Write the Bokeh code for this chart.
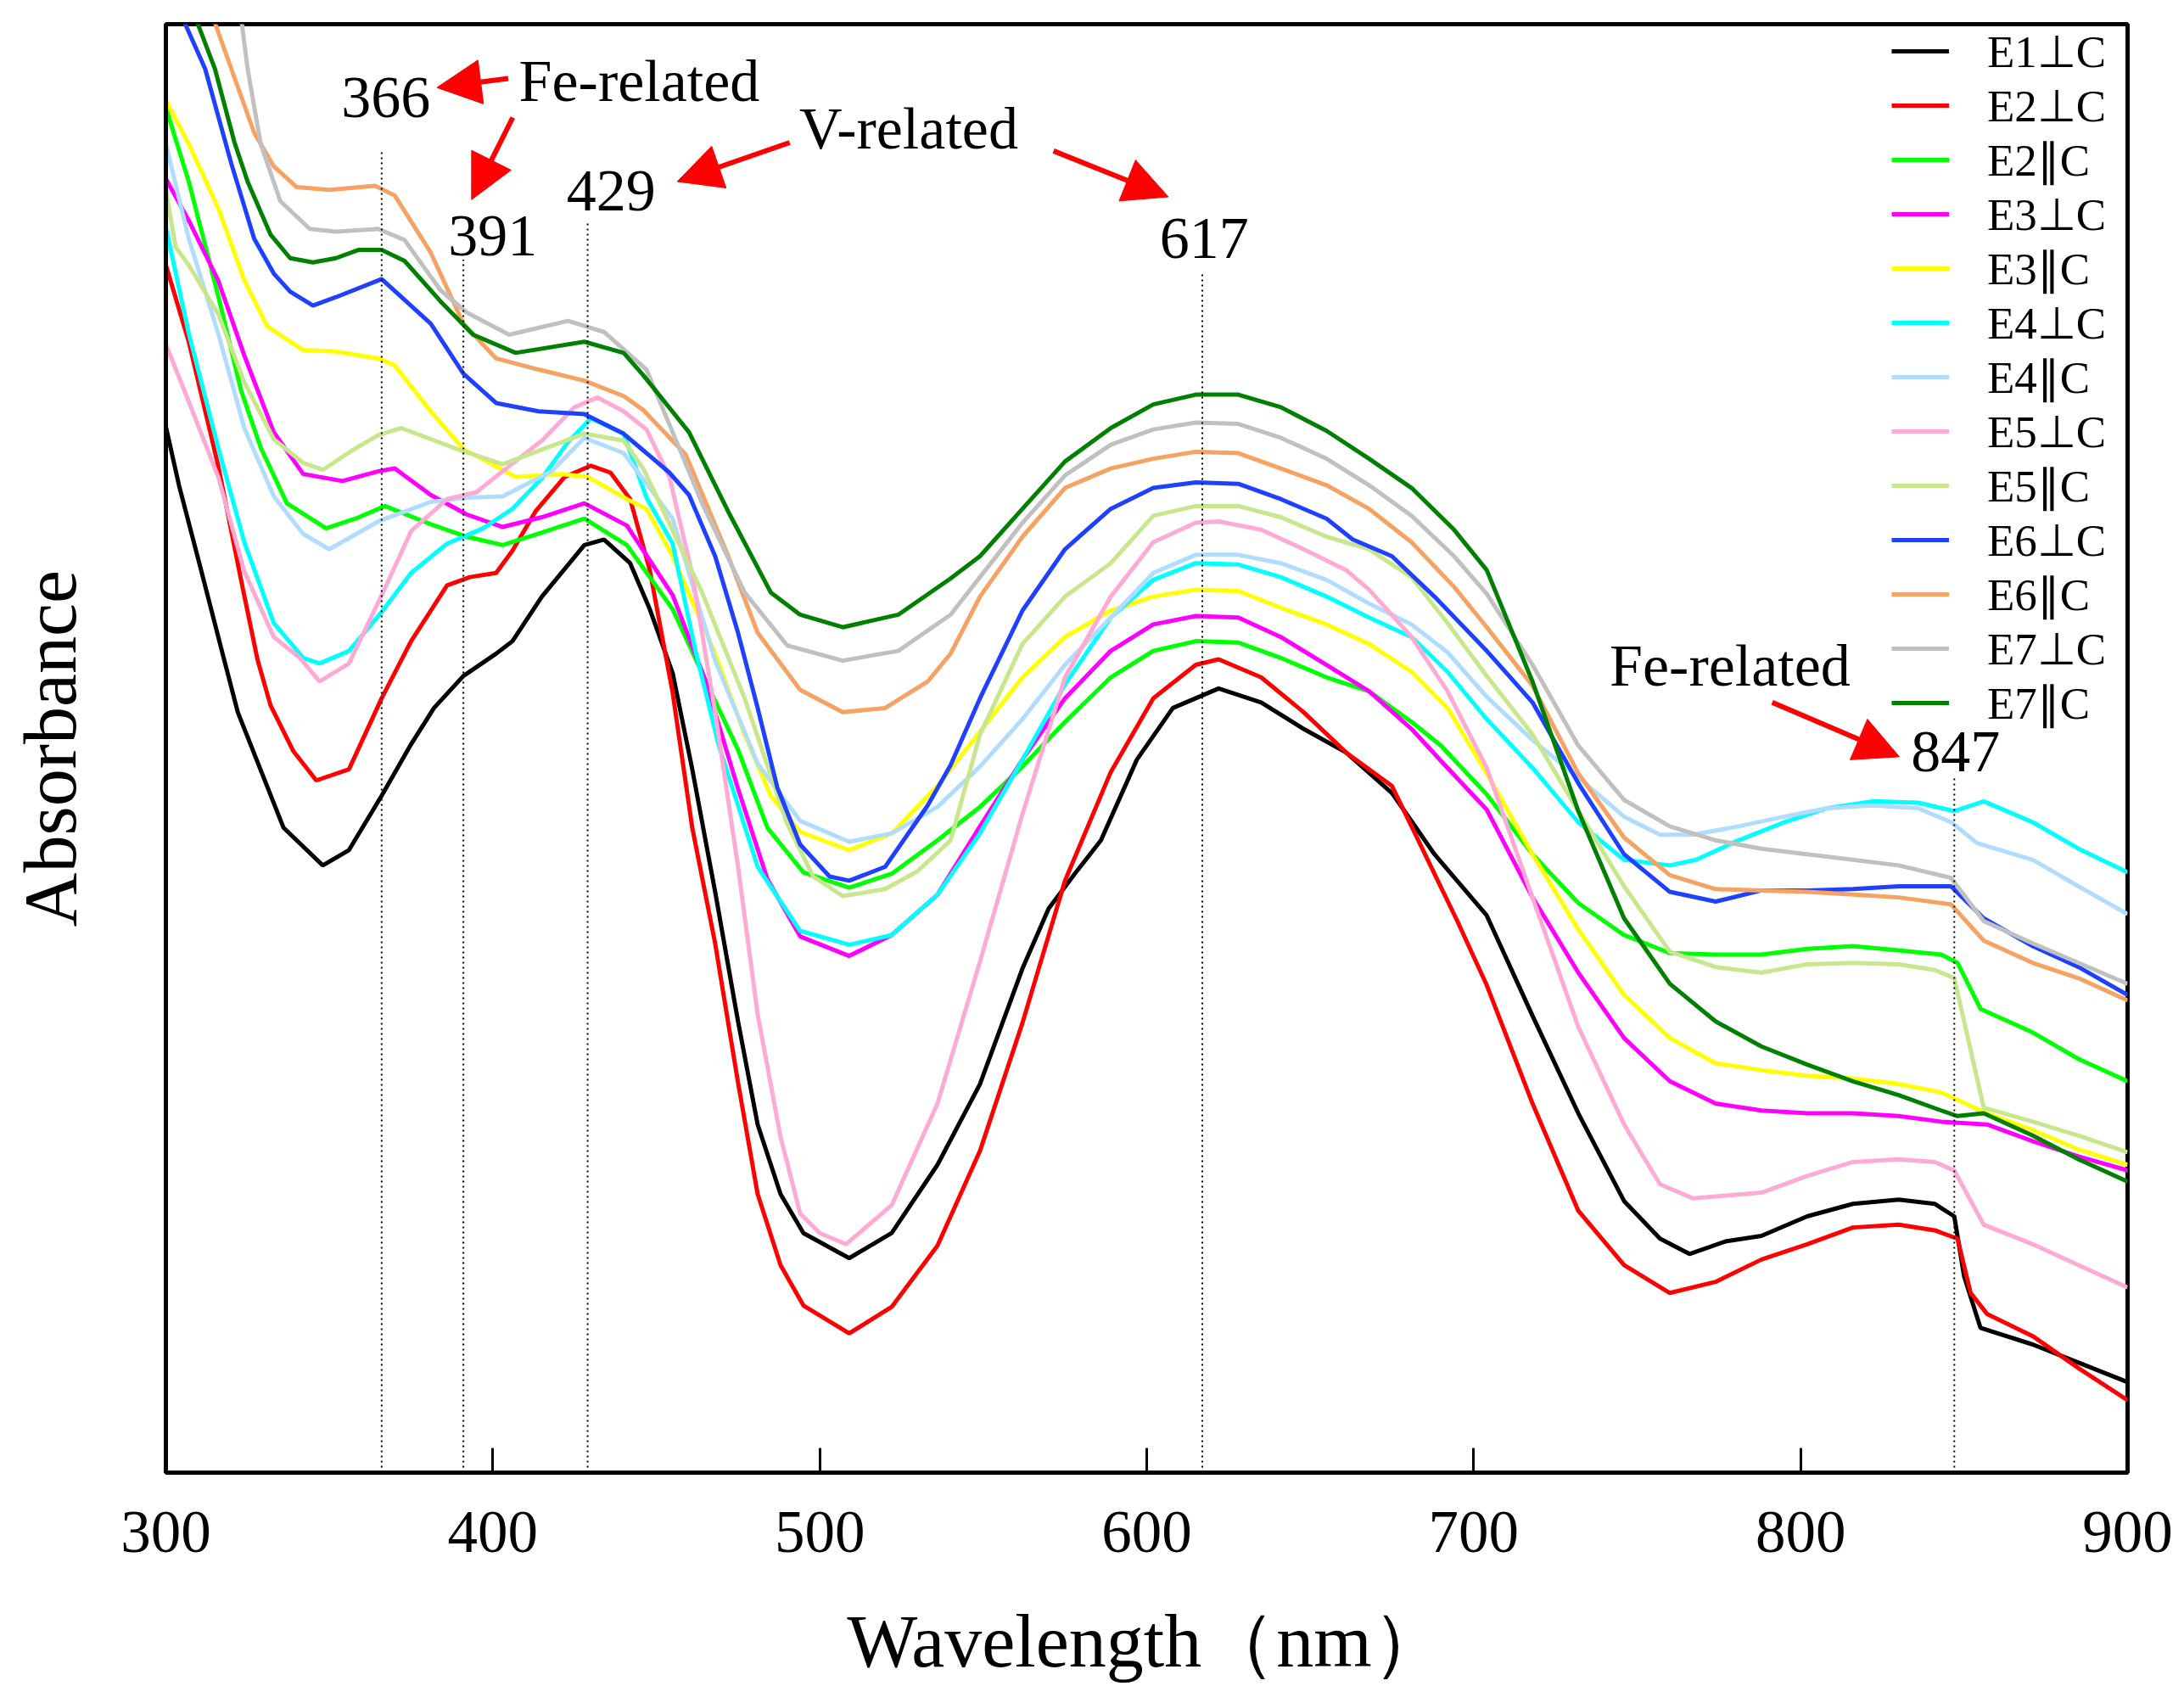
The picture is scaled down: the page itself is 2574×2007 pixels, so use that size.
from bokeh.plotting import figure
from bokeh.models import Range1d, FixedTicker, Arrow, NormalHead
from bokeh.embed import file_html
from bokeh.resources import INLINE
from bokeh.core.properties import value

FONT = "Liberation Serif"

# absorbance in arbitrary units
e1_perp_wl = [300, 304, 310, 318, 322, 336, 348, 356, 366, 375, 382, 391, 401, 406, 415, 428, 434, 442, 448, 455,
              461, 468, 475, 481, 488, 495, 509, 522, 536, 549, 562, 570, 578, 586, 597, 608, 622, 635, 648, 661,
              675, 688, 704, 718, 732, 746, 757, 766, 777, 788, 802, 816, 830, 841, 847, 850, 855, 871, 885, 900]
e1_perp_a = [0.751, 0.709, 0.655, 0.582, 0.546, 0.463, 0.436, 0.447, 0.486, 0.523, 0.549, 0.572, 0.588, 0.597, 0.629,
             0.666, 0.670, 0.653, 0.620, 0.574, 0.505, 0.417, 0.324, 0.250, 0.200, 0.172, 0.154, 0.172, 0.221, 0.279,
             0.362, 0.405, 0.430, 0.454, 0.512, 0.549, 0.563, 0.553, 0.534, 0.517, 0.488, 0.444, 0.400, 0.328, 0.258,
             0.195, 0.168, 0.157, 0.166, 0.170, 0.184, 0.193, 0.196, 0.193, 0.184, 0.141, 0.104, 0.092, 0.079, 0.065]

e2_perp_wl = [300, 307, 316, 323, 328, 332, 339, 346, 356, 366, 375, 386, 393, 401, 406, 413, 422, 430, 436, 442,
              448, 455, 461, 468, 475, 481, 488, 495, 509, 522, 536, 549, 562, 575, 589, 602, 615, 622, 635, 648,
              661, 675, 681, 695, 704, 718, 732, 746, 760, 774, 788, 802, 816, 830, 841, 848, 852, 857, 871, 885, 900]
e2_perp_a = [0.867, 0.812, 0.723, 0.641, 0.584, 0.551, 0.518, 0.497, 0.505, 0.556, 0.597, 0.637, 0.643, 0.646, 0.662,
             0.690, 0.715, 0.723, 0.718, 0.699, 0.648, 0.560, 0.463, 0.380, 0.280, 0.200, 0.149, 0.120, 0.100, 0.119,
             0.163, 0.231, 0.323, 0.425, 0.503, 0.556, 0.580, 0.584, 0.571, 0.546, 0.517, 0.493, 0.464, 0.396, 0.350,
             0.265, 0.188, 0.149, 0.129, 0.137, 0.153, 0.164, 0.176, 0.178, 0.174, 0.168, 0.129, 0.114, 0.098, 0.075,
             0.052]

e2_par_wl = [300, 307, 316, 323, 329, 337, 349, 358, 367, 381, 392, 403, 415, 428, 441, 455, 465, 475, 484, 495,
             509, 522, 536, 549, 562, 575, 589, 602, 615, 628, 641, 655, 668, 681, 690, 704, 718, 732, 746, 760,
             774, 788, 802, 816, 830, 843, 848, 855, 871, 885, 900]
e2_par_a = [0.980, 0.927, 0.845, 0.777, 0.736, 0.696, 0.678, 0.685, 0.694, 0.681, 0.672, 0.666, 0.675, 0.685, 0.666,
            0.620, 0.569, 0.519, 0.463, 0.431, 0.420, 0.430, 0.454, 0.478, 0.507, 0.539, 0.571, 0.590, 0.597, 0.596,
            0.585, 0.571, 0.561, 0.539, 0.522, 0.487, 0.444, 0.409, 0.386, 0.373, 0.372, 0.372, 0.376, 0.378, 0.375,
            0.372, 0.366, 0.333, 0.316, 0.297, 0.281]

e3_perp_wl = [300, 307, 316, 324, 333, 342, 354, 365, 370, 381, 392, 403, 415, 428, 441, 455, 465, 475, 484, 494,
              509, 522, 536, 549, 562, 575, 589, 602, 615, 628, 641, 655, 668, 681, 690, 704, 718, 732, 746, 760,
              774, 788, 802, 816, 830, 843, 857, 871, 885, 900]
e3_perp_a = [0.929, 0.899, 0.856, 0.802, 0.747, 0.717, 0.712, 0.719, 0.721, 0.702, 0.688, 0.679, 0.686, 0.696, 0.680,
             0.630, 0.569, 0.491, 0.426, 0.385, 0.371, 0.386, 0.415, 0.464, 0.512, 0.556, 0.590, 0.609, 0.615, 0.614,
             0.600, 0.580, 0.561, 0.534, 0.511, 0.476, 0.413, 0.359, 0.312, 0.281, 0.265, 0.260, 0.258, 0.258, 0.256,
             0.252, 0.250, 0.238, 0.227, 0.217]

e3_par_wl = [300, 307, 316, 324, 331, 342, 352, 365, 370, 381, 391, 407, 421, 429, 441, 447, 455, 468, 477, 485,
             494, 509, 522, 536, 549, 562, 575, 589, 602, 615, 628, 641, 655, 668, 681, 692, 704, 718, 732, 746,
             760, 774, 788, 802, 816, 830, 843, 857, 871, 885, 900]
e3_par_a = [0.985, 0.954, 0.908, 0.856, 0.823, 0.806, 0.805, 0.800, 0.795, 0.762, 0.735, 0.715, 0.717, 0.715, 0.699,
            0.692, 0.658, 0.588, 0.530, 0.486, 0.460, 0.447, 0.459, 0.493, 0.532, 0.571, 0.600, 0.619, 0.629, 0.634,
            0.633, 0.621, 0.609, 0.595, 0.575, 0.549, 0.502, 0.444, 0.390, 0.343, 0.312, 0.294, 0.289, 0.285, 0.283,
            0.279, 0.273, 0.258, 0.246, 0.232, 0.221]

e4_perp_wl = [300, 307, 316, 324, 333, 342, 347, 356, 366, 375, 386, 397, 406, 415, 423, 430, 440, 447, 455, 462,
              469, 481, 494, 509, 522, 536, 549, 562, 575, 589, 602, 615, 628, 641, 655, 668, 681, 692, 704, 718,
              732, 746, 760, 768, 781, 795, 808, 822, 836, 847, 856, 871, 885, 900]
e4_perp_a = [0.894, 0.818, 0.736, 0.668, 0.610, 0.585, 0.581, 0.590, 0.618, 0.646, 0.667, 0.678, 0.692, 0.714, 0.740,
             0.757, 0.746, 0.700, 0.667, 0.590, 0.523, 0.435, 0.389, 0.379, 0.386, 0.415, 0.459, 0.512, 0.566, 0.614,
             0.641, 0.653, 0.652, 0.643, 0.629, 0.614, 0.600, 0.575, 0.541, 0.506, 0.467, 0.440, 0.436, 0.440, 0.454,
             0.467, 0.477, 0.482, 0.481, 0.475, 0.482, 0.467, 0.448, 0.431]

e4_par_wl = [300, 307, 316, 324, 333, 342, 350, 365, 381, 392, 403, 418, 428, 440, 455, 468, 481, 494, 509, 522,
             536, 549, 562, 575, 589, 602, 615, 628, 641, 655, 668, 681, 692, 704, 718, 732, 746, 757, 767, 781,
             795, 808, 822, 836, 846, 854, 871, 885, 900]
e4_par_a = [0.954, 0.886, 0.818, 0.750, 0.701, 0.674, 0.663, 0.683, 0.697, 0.700, 0.701, 0.719, 0.743, 0.732, 0.685,
            0.583, 0.509, 0.468, 0.453, 0.459, 0.478, 0.507, 0.541, 0.580, 0.614, 0.646, 0.659, 0.659, 0.653, 0.641,
            0.624, 0.609, 0.589, 0.557, 0.526, 0.499, 0.471, 0.458, 0.458, 0.464, 0.471, 0.477, 0.479, 0.477, 0.467,
            0.452, 0.440, 0.421, 0.401]

e5_perp_wl = [300, 307, 316, 324, 333, 341, 347, 356, 366, 375, 386, 395, 403, 415, 425, 432, 440, 447, 454, 461,
              468, 475, 481, 488, 494, 500, 508, 522, 536, 549, 562, 575, 589, 602, 615, 622, 635, 648, 661, 668,
              681, 692, 704, 718, 732, 746, 757, 767, 788, 802, 816, 830, 841, 847, 856, 871, 885, 900]
e5_perp_a = [0.810, 0.769, 0.715, 0.647, 0.600, 0.585, 0.568, 0.581, 0.630, 0.676, 0.699, 0.704, 0.719, 0.741, 0.765,
             0.772, 0.762, 0.749, 0.715, 0.645, 0.546, 0.435, 0.329, 0.241, 0.186, 0.172, 0.164, 0.192, 0.265, 0.367,
             0.473, 0.571, 0.629, 0.668, 0.682, 0.683, 0.677, 0.663, 0.648, 0.634, 0.600, 0.561, 0.506, 0.413, 0.320,
             0.250, 0.207, 0.197, 0.201, 0.213, 0.223, 0.225, 0.223, 0.217, 0.178, 0.164, 0.149, 0.133]

e5_par_wl = [300, 303, 307, 316, 324, 333, 342, 348, 357, 365, 372, 389, 403, 428, 440, 446, 464, 477, 490, 498,
             507, 520, 530, 540, 549, 562, 575, 589, 602, 615, 628, 641, 655, 668, 681, 692, 704, 718, 732, 746,
             760, 774, 788, 802, 816, 830, 841, 847, 850, 856, 871, 885, 900]
e5_par_a = [0.921, 0.880, 0.867, 0.832, 0.783, 0.742, 0.725, 0.720, 0.734, 0.745, 0.750, 0.735, 0.724, 0.746, 0.741,
            0.721, 0.632, 0.556, 0.466, 0.428, 0.414, 0.419, 0.432, 0.454, 0.530, 0.595, 0.629, 0.653, 0.687, 0.694,
            0.694, 0.686, 0.672, 0.663, 0.643, 0.610, 0.572, 0.530, 0.475, 0.421, 0.374, 0.363, 0.359, 0.365, 0.366,
            0.365, 0.361, 0.355, 0.324, 0.262, 0.252, 0.242, 0.230]

e6_perp_wl = [300, 305, 312, 320, 327, 333, 338, 345, 352, 366, 381, 391, 401, 414, 428, 440, 446, 454, 460, 468,
              475, 481, 487, 494, 503, 509, 520, 533, 540, 549, 562, 575, 589, 602, 615, 628, 641, 655, 663, 675,
              688, 704, 718, 732, 746, 760, 774, 788, 802, 816, 830, 846, 856, 871, 885, 900]
e6_perp_a = [1.080, 1.045, 1.008, 0.940, 0.886, 0.861, 0.848, 0.838, 0.844, 0.857, 0.825, 0.789, 0.768, 0.762, 0.760,
             0.746, 0.734, 0.718, 0.702, 0.658, 0.603, 0.549, 0.492, 0.451, 0.428, 0.425, 0.435, 0.479, 0.508, 0.556,
             0.619, 0.663, 0.692, 0.707, 0.711, 0.710, 0.699, 0.685, 0.670, 0.658, 0.629, 0.590, 0.553, 0.495, 0.444,
             0.417, 0.410, 0.418, 0.418, 0.419, 0.421, 0.421, 0.398, 0.378, 0.363, 0.343]

e6_par_wl = [300, 315, 320, 327, 333, 340, 350, 364, 370, 381, 391, 401, 414, 428, 440, 446, 459, 472, 481, 494,
             507, 520, 533, 540, 549, 562, 575, 589, 602, 615, 628, 641, 655, 668, 681, 694, 704, 718, 732, 746,
             760, 774, 788, 802, 816, 830, 846, 856, 871, 885, 900]
e6_par_a = [1.130, 1.041, 1.008, 0.962, 0.938, 0.923, 0.921, 0.924, 0.917, 0.876, 0.825, 0.800, 0.792, 0.784, 0.773,
            0.763, 0.731, 0.658, 0.603, 0.562, 0.546, 0.549, 0.568, 0.588, 0.629, 0.672, 0.707, 0.721, 0.728, 0.733,
            0.732, 0.721, 0.709, 0.692, 0.668, 0.636, 0.607, 0.565, 0.502, 0.456, 0.429, 0.419, 0.418, 0.417, 0.415,
            0.413, 0.408, 0.382, 0.366, 0.355, 0.339]

e7_perp_wl = [300, 315, 323, 325, 329, 335, 344, 352, 365, 373, 384, 392, 405, 423, 434, 447, 455, 464, 477, 490,
              507, 524, 540, 549, 562, 575, 589, 602, 615, 628, 641, 655, 668, 681, 694, 704, 718, 732, 746, 760,
              774, 788, 802, 816, 830, 846, 856, 871, 885, 900]
e7_perp_a = [1.350, 1.170, 1.045, 1.008, 0.954, 0.913, 0.893, 0.891, 0.893, 0.885, 0.849, 0.833, 0.817, 0.827, 0.819,
             0.792, 0.747, 0.696, 0.632, 0.594, 0.583, 0.590, 0.616, 0.643, 0.682, 0.716, 0.738, 0.749, 0.754, 0.753,
             0.743, 0.728, 0.709, 0.687, 0.658, 0.631, 0.580, 0.522, 0.483, 0.464, 0.454, 0.448, 0.444, 0.440, 0.436,
             0.427, 0.396, 0.380, 0.366, 0.351]

e7_par_wl = [300, 309, 315, 321, 325, 332, 338, 345, 352, 359, 366, 373, 384, 394, 407, 428, 440, 446, 460, 472,
             485, 494, 507, 524, 540, 549, 562, 575, 589, 602, 615, 628, 641, 655, 668, 681, 694, 704, 718, 732,
             746, 760, 774, 788, 802, 816, 830, 843, 848, 856, 871, 885, 900]
e7_par_a = [1.110, 1.045, 1.008, 0.955, 0.927, 0.889, 0.872, 0.869, 0.872, 0.878, 0.878, 0.870, 0.841, 0.817, 0.804,
            0.812, 0.804, 0.788, 0.747, 0.690, 0.632, 0.616, 0.607, 0.616, 0.642, 0.658, 0.692, 0.726, 0.750, 0.767,
            0.774, 0.774, 0.765, 0.748, 0.728, 0.707, 0.677, 0.648, 0.568, 0.475, 0.398, 0.351, 0.324, 0.306, 0.293,
            0.281, 0.271, 0.260, 0.256, 0.258, 0.242, 0.225, 0.209]

series = [
    ("E1\u22a5C", e1_perp_wl, e1_perp_a, "#000000"),
    ("E2\u22a5C", e2_perp_wl, e2_perp_a, "#ff0000"),
    ("E2\u2225C", e2_par_wl, e2_par_a, "#00ff00"),
    ("E3\u22a5C", e3_perp_wl, e3_perp_a, "#ff00ff"),
    ("E3\u2225C", e3_par_wl, e3_par_a, "#ffff00"),
    ("E4\u22a5C", e4_perp_wl, e4_perp_a, "#00ffff"),
    ("E4\u2225C", e4_par_wl, e4_par_a, "#b0dcff"),
    ("E5\u22a5C", e5_perp_wl, e5_perp_a, "#ffaad4"),
    ("E5\u2225C", e5_par_wl, e5_par_a, "#c8e68c"),
    ("E6\u22a5C", e6_perp_wl, e6_perp_a, "#2040ff"),
    ("E6\u2225C", e6_par_wl, e6_par_a, "#f5a262"),
    ("E7\u22a5C", e7_perp_wl, e7_perp_a, "#c0c0c0"),
    ("E7\u2225C", e7_par_wl, e7_par_a, "#008000"),
]

# marked bands
peak_wl = [366, 391, 429, 617, 847]
peak_top = [0.950, 0.871, 0.898, 0.862, 0.499]

ann_text = ["366", "Fe-related", "391", "429", "V-related", "617", "Fe-related", "847"]
ann_x = [367.3, 444.8, 400.0, 436.2, 527.2, 617.6, 778.4, 847.4]
ann_y = [0.987, 0.999, 0.888, 0.9205, 0.965, 0.886, 0.5796, 0.5175]

arrow_x0 = [404.7, 406.1, 490.8, 571.5, 791.3]
arrow_y0 = [1.001, 0.973, 0.955, 0.949, 0.553]
arrow_x1 = [382.9, 393.5, 456.4, 606.6, 830.2]
arrow_y1 = [0.9945, 0.914, 0.927, 0.916, 0.514]

p = figure(width=2566, height=1999, x_range=Range1d(300, 900), y_range=Range1d(0, 1.04),
           output_backend="svg", toolbar_location=None,
           min_border_left=195, min_border_right=59, min_border_top=28, min_border_bottom=264)

for name, wl, a, col in series:
    p.line(wl, a, line_color=col, line_width=5, legend_label=name)

p.segment(x0=peak_wl, y0=[0] * len(peak_wl), x1=peak_wl, y1=peak_top,
          line_color="black", line_width=2, line_dash="2 4")

p.text(x=ann_x, y=ann_y, text=ann_text, text_font=value(FONT), text_font_size="70px",
       text_align="center", text_baseline="alphabetic", text_color="black")

for i in range(len(arrow_x0)):
    p.add_layout(Arrow(end=NormalHead(size=52, fill_color="red", line_color="red", line_width=1),
                       x_start=arrow_x0[i], y_start=arrow_y0[i], x_end=arrow_x1[i], y_end=arrow_y1[i],
                       line_color="red", line_width=6))

p.grid.visible = False
p.outline_line_color = "black"
p.outline_line_width = 5

p.xaxis.ticker = FixedTicker(ticks=[300, 400, 500, 600, 700, 800, 900])
p.xaxis.major_tick_in = 29
p.xaxis.major_tick_out = 0
p.xaxis.major_tick_line_width = 3
p.xaxis.minor_tick_line_color = None
p.xaxis.axis_line_width = 5
p.xaxis.major_label_text_font = FONT
p.xaxis.major_label_text_font_size = "71px"
p.xaxis.major_label_text_color = "black"
p.xaxis.major_label_standoff = 46
p.xaxis.axis_label = "Wavelength\uff08nm\uff09"
p.xaxis.axis_label_text_font = FONT
p.xaxis.axis_label_text_font_size = "88px"
p.xaxis.axis_label_text_font_style = "normal"
p.xaxis.axis_label_text_color = "black"
p.xaxis.axis_label_standoff = 54

p.yaxis.ticker = FixedTicker(ticks=[])
p.yaxis.minor_tick_line_color = None
p.yaxis.axis_line_width = 5
p.yaxis.axis_label = "Absorbance"
p.yaxis.axis_label_text_font = FONT
p.yaxis.axis_label_text_font_size = "88px"
p.yaxis.axis_label_text_font_style = "normal"
p.yaxis.axis_label_text_color = "black"
p.yaxis.axis_label_standoff = 88

p.legend.location = "top_right"
p.legend.margin = 0
p.legend.padding = 4
p.legend.spacing = 0
p.legend.glyph_width = 68
p.legend.glyph_height = 64
p.legend.label_height = 64
p.legend.label_width = 165
p.legend.label_standoff = 45
p.legend.label_text_font = FONT
p.legend.label_text_font_size = "53px"
p.legend.label_text_color = "black"
p.legend.border_line_color = None
p.legend.background_fill_alpha = 0

open("out.html", "w").write(file_html(p, INLINE))
